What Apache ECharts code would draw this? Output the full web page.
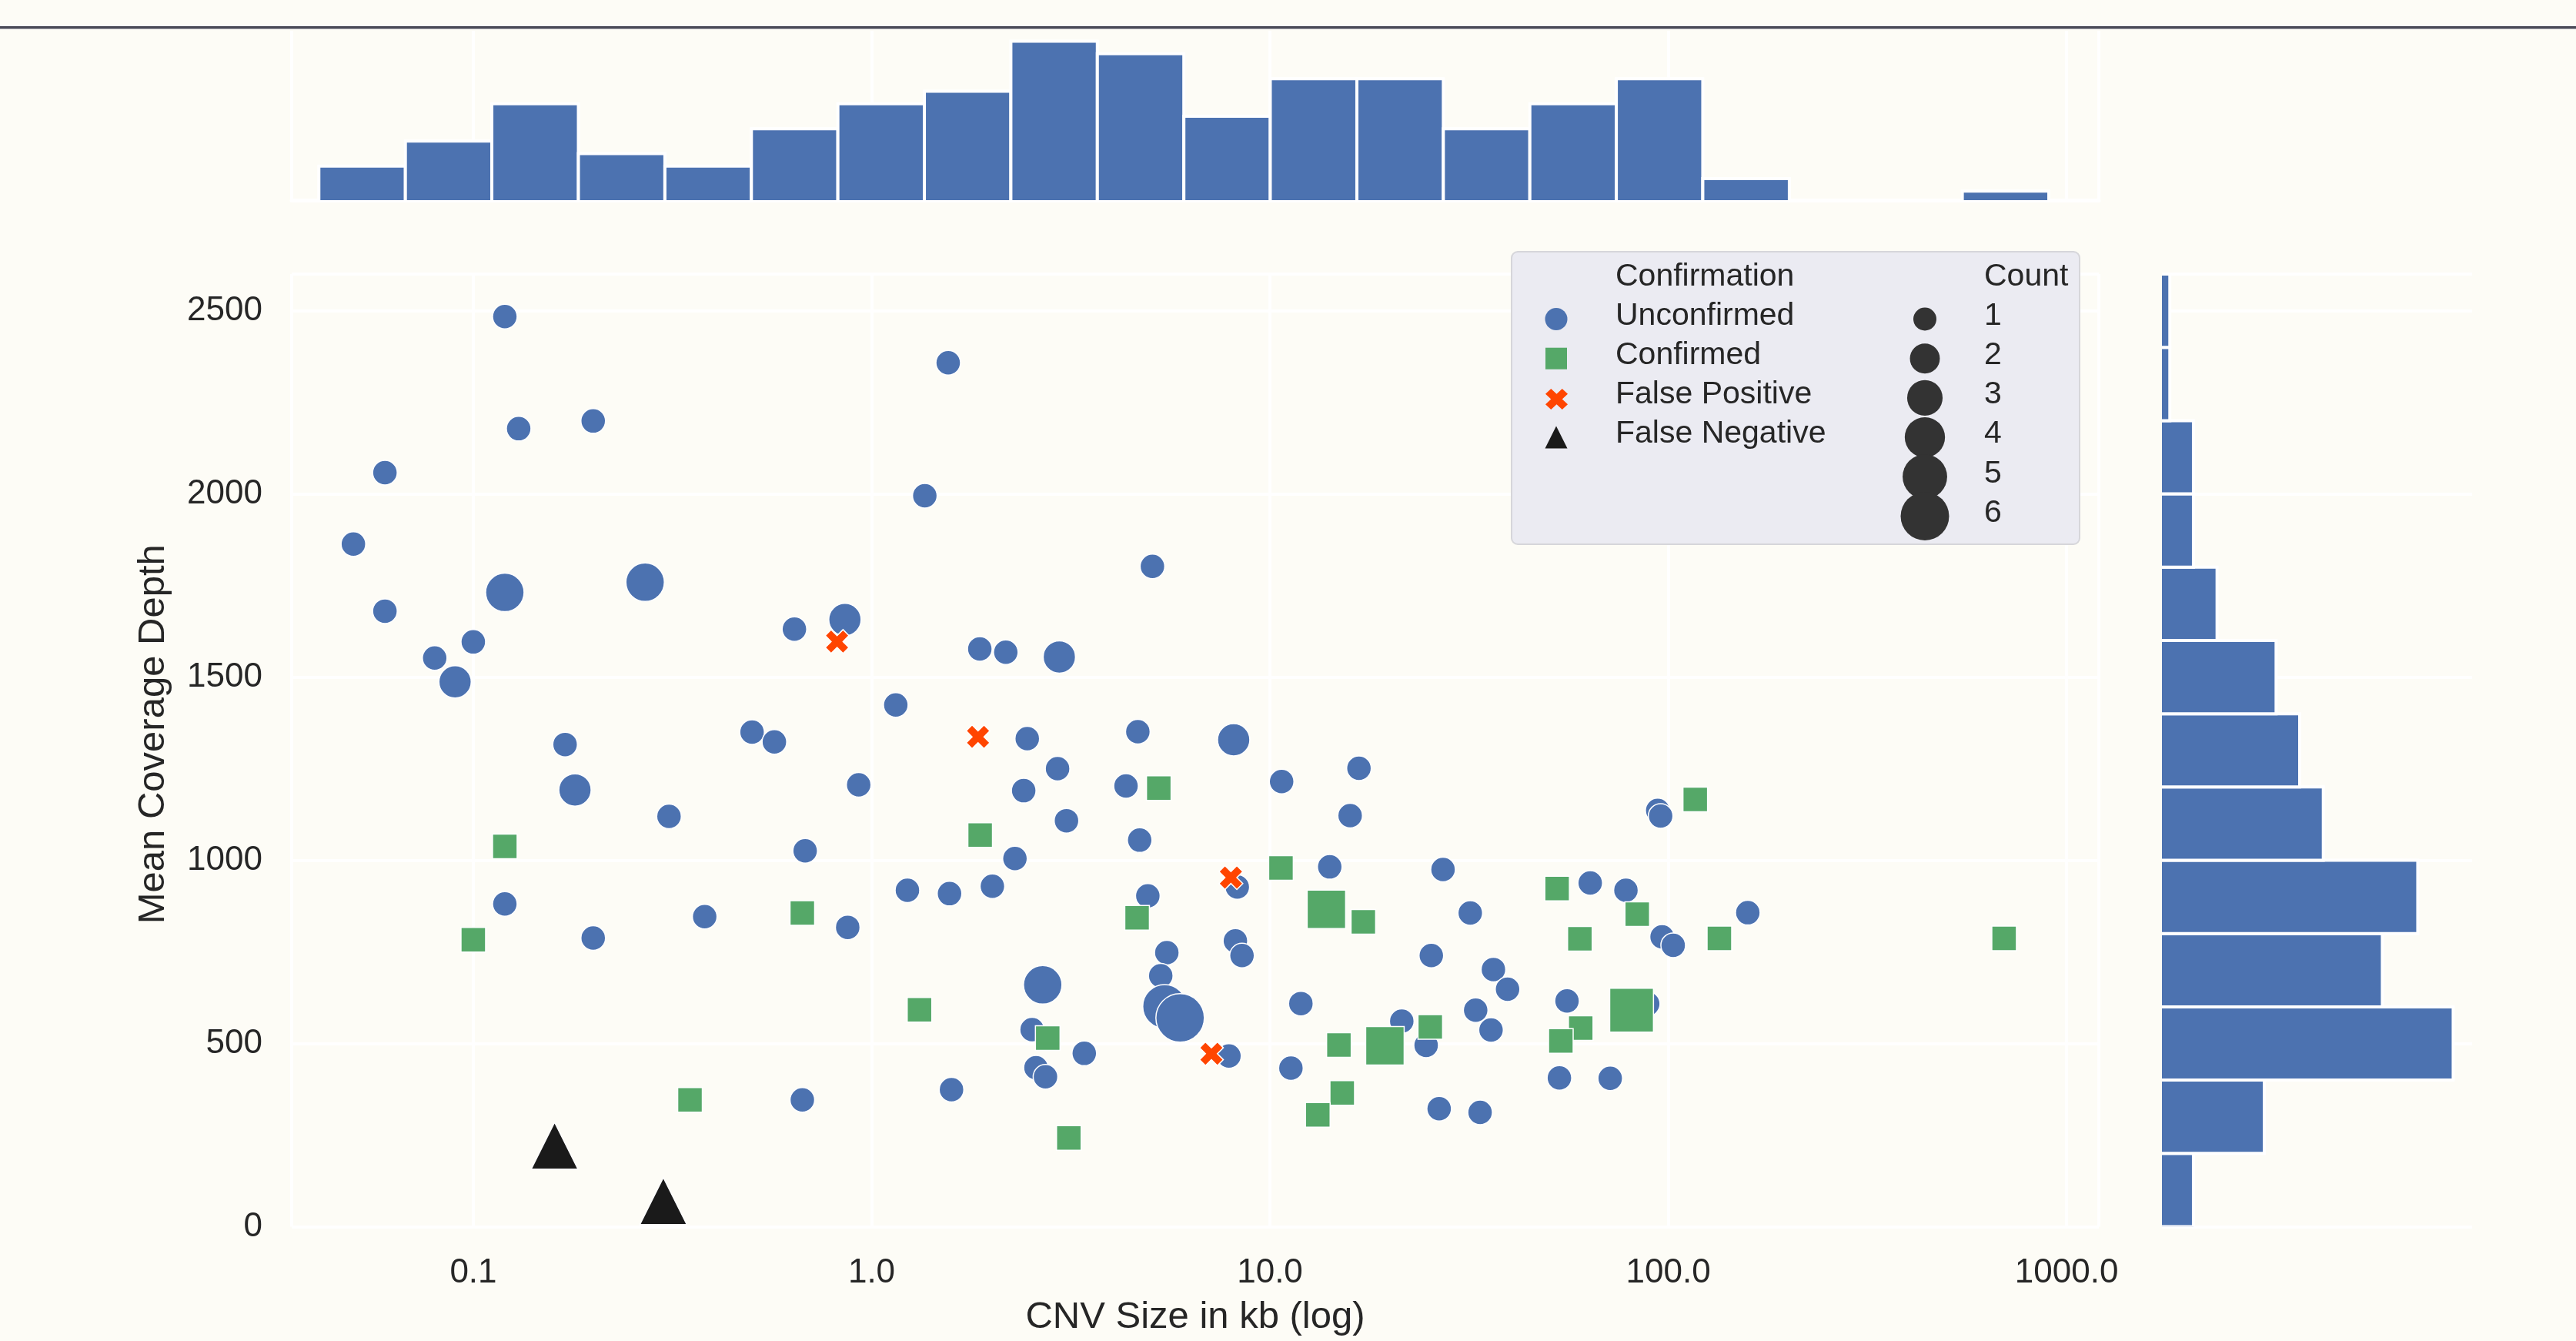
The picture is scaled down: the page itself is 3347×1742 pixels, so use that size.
<!DOCTYPE html>
<html>
<head>
<meta charset="utf-8">
<script src="https://cdn.jsdelivr.net/npm/echarts/dist/echarts.min.js"></script>
<style>
html,body{margin:0;padding:0;background:#fdfcf6;}
#c{width:3347px;height:1742px;}
</style>
</head>
<body>
<div id="c"></div>
<script>
// ---------------- DATA ----------------
// Unconfirmed CNVs: size (kb), mean coverage depth, count
const unconfSize  = [0.120,0.130,0.200,0.060,0.050,0.120,0.270,0.060,0.100,0.080,0.090,0.170,0.180,0.640,0.857,1.150,0.501,0.570,0.928,0.310,
                     1.557,1.360,5.07,1.869,2.172,2.960,2.459,4.66,8.11,2.930,2.409,4.352,10.70,16.73,15.90,3.085,4.71,2.290,2.010,4.937,
                     8.28,14.13,5.51,5.32,5.44,5.95,8.19,8.51,11.96,2.689,2.529,3.419,2.586,2.732,7.89,11.29,94.1,95.7,27.2,63.7,
                     78.3,158.4,31.84,96.5,102.9,25.42,36.4,39.5,55.7,88.8,21.43,24.67,32.85,35.9,53.3,71.5,26.6,33.7,0.681,1.230,
                     1.569,0.381,0.871,0.200,0.670,1.587,0.120];
const unconfDepth = [2484,2178,2199,2058,1863,1731,1759,1680,1596,1552,1487,1316,1192,1631,1657,1424,1350,1323,1206,1120,
                     2358,1995,1802,1577,1568,1555,1332,1351,1329,1250,1190,1203,1215,1251,1122,1108,1055,1005,929,903,
                     927,982,748,685,601,570,780,740,609,660,538,473,434,409,466,433,1136,1121,975,938,
                     918,857,856,791,768,740,702,648,616,608,561,495,591,537,406,405,322,312,1026,918,
                     909,846,817,788,346,374,881];
const unconfCount = [1,1,1,1,1,3,3,1,1,1,2,1,2,1,2,1,1,1,1,1,
                     1,1,1,1,1,2,1,1,2,1,1,1,1,1,1,1,1,1,1,1,
                     1,1,1,1,4,5,1,1,1,3,1,1,1,1,1,1,1,1,1,1,
                     1,1,1,1,1,1,1,1,1,1,1,1,1,1,1,1,1,1,1,1,
                     1,1,1,1,1,1,1];
// Confirmed CNVs
const confSize  = [5.26,1.873,4.64,10.66,13.86,17.16,2.768,3.127,14.9,15.19,13.19,19.44,116.9,52.6,83.6,134.4,60.0,80.9,25.27,60.3,
                   53.75,0.670,1.319,0.350,0.120,0.100,697];
const confDepth = [1197,1069,843,979,866,832,515,242,496,365,305,494,1166,923,853,787,786,591,545,542,
                   507,856,592,346,1038,783,787];
const confCount = [1,1,1,1,3,1,1,1,1,1,1,3,1,1,1,1,1,4,1,1,
                   1,1,1,1,1,1,1];
// False positives
const fpSize  = [0.819,1.850,7.98,7.13];
const fpDepth = [1597,1337,953,472];
const fpCount = [1,1,1,1];
// False negatives
const fnSize  = [0.160,0.300];
const fnDepth = [221,70];
const fnCount = [5,5];

// Marginal histogram of CNV size (log-spaced bin edges, kb) and counts
const sizeBinEdges  = [0.04095,0.06753,0.1113,0.1836,0.3027,0.4991,0.8228,1.3566,2.2366,3.6875,6.080,
                       10.02,16.53,27.25,44.93,74.07,122.1,201.4,331.9,547.3,902.6];
const sizeBinCounts = [3,5,8,4,3,6,8,9,13,12,7,10,10,6,8,10,2,0,0,1];
// Marginal histogram of depth (bin edges) and counts
const depthBinEdges  = [0,200,400,600,800,1000,1200,1400,1600,1800,2000,2200,2400,2600];
const depthBinCounts = [3,9,25,19,22,14,12,10,5,3,3,1,1];

// Axis tick values
const depthTicks = [0,500,1000,1500,2000,2500];
const categoryNames = ['Unconfirmed','Confirmed','False Positive','False Negative'];
const countLegend = [1,2,3,4,5,6];

// ---------------- STYLE ----------------
const FONT = "'Liberation Sans', Arial, Helvetica, sans-serif";
const TXT = '#262626';
const BG = '#fdfcf6';
const BLUE = '#4c72b0', GREEN = '#55a868', RED = '#ff4500', BLACK = '#1a1a1a';
const XPTS = [[2.5,0],[5,2.5],[7.5,0],[10,2.5],[7.5,5],[10,7.5],[7.5,10],[5,7.5],[2.5,10],[0,7.5],[2.5,5],[0,2.5]];
const XPATH = 'path://M' + XPTS.map(p=>p[0]+','+p[1]).join('L') + 'Z';
function markerSize(c){ return Math.sqrt(961 + 720*(c-1)) + 1; }
function legendSize(c){ return Math.sqrt(900 + 612*(c-1)); }
function zip(a,b,c){ return a.map((v,i)=>[v,b[i],c[i]]); }
function fmtSize(v){ return v >= 1 ? v.toFixed(1) : String(parseFloat(v.toPrecision(3))); }

const topHistData = sizeBinCounts.map((c,i)=>[sizeBinEdges[i], sizeBinEdges[i+1], c]);
const rightHistData = depthBinCounts.map((c,i)=>[c, depthBinEdges[i], depthBinEdges[i+1]]);

const chart = echarts.init(document.getElementById('c'), null, {renderer:'canvas', width:3347, height:1742});

const gridLine = {show:true, lineStyle:{color:'#ffffff', width:4}};

// Legend graphic
const lg = [];
lg.push({type:'rect', shape:{x:1964, y:327, width:738, height:380, r:8},
         style:{fill:'#ebebf2', stroke:'#d6d6da', lineWidth:2}, z:100});
lg.push({type:'text', x:2099, y:360, style:{text:'Confirmation', font:'41px '+FONT, fill:TXT, textVerticalAlign:'middle', textAlign:'left'}, z:101});
lg.push({type:'text', x:2578, y:360, style:{text:'Count', font:'41px '+FONT, fill:TXT, textVerticalAlign:'middle', textAlign:'left'}, z:101});
const rowM = i => 414.5 + 51.2*i;
const rowT = i => 410.5 + 51.2*i;
categoryNames.forEach((n,i)=>{
  lg.push({type:'text', x:2099, y:rowT(i), style:{text:n, font:'41px '+FONT, fill:TXT, textVerticalAlign:'middle', textAlign:'left'}, z:101});
});
lg.push({type:'circle', shape:{cx:2022, cy:rowM(0), r:14.5}, style:{fill:BLUE}, z:101});
lg.push({type:'rect', shape:{x:2008, y:rowM(1)-14, width:28, height:28}, style:{fill:GREEN}, z:101});
const xp = XPTS.map(p=>[2022.5 + (p[0]-5)*2.9, rowM(2)+1.5 + (p[1]-5)*2.7]);
lg.push({type:'polygon', shape:{points:xp}, style:{fill:RED}, z:101});
lg.push({type:'polygon', shape:{points:[[2022,rowM(3)-14.5],[2007.5,rowM(3)+14.5],[2036.5,rowM(3)+14.5]]}, style:{fill:BLACK}, z:101});
countLegend.forEach((c,j)=>{
  lg.push({type:'circle', shape:{cx:2501, cy:rowM(j), r:legendSize(c)/2}, style:{fill:'#333333'}, z:101});
  lg.push({type:'text', x:2578, y:rowT(j), style:{text:String(c), font:'41px '+FONT, fill:TXT, textVerticalAlign:'middle', textAlign:'left'}, z:101});
});
// thin dark rule at the top of the figure
lg.push({type:'rect', shape:{x:0, y:34, width:3347, height:3}, style:{fill:'#4b4b58'}, z:50});
lg.push({type:'rect', shape:{x:0, y:37, width:3347, height:1}, style:{fill:'#a6a6ad'}, z:50});

const option = {
  backgroundColor: BG,
  animation: false,
  grid: [
    {left:379, top:356, width:2348, height:1237.5},
    {left:379, top:40, width:2348, height:220},
    {left:2809, top:356, width:403, height:1237.5}
  ],
  xAxis: [
    {gridIndex:0, type:'log', logBase:10, min:0.035, max:1205,
     name:'CNV Size in kb (log)', nameLocation:'middle', nameGap:93,
     nameTextStyle:{fontSize:49, color:TXT, fontFamily:FONT},
     axisLine:{show:false}, axisTick:{show:false},
     axisLabel:{fontSize:44, color:TXT, margin:38, fontFamily:FONT, showMinLabel:false, showMaxLabel:false, formatter:fmtSize},
     splitLine:gridLine},
    {gridIndex:1, type:'log', logBase:10, min:0.035, max:1205,
     axisLine:{show:true, onZero:false, lineStyle:{color:'#ffffff', width:5}}, axisTick:{show:false},
     axisLabel:{show:false}, splitLine:gridLine},
    {gridIndex:2, type:'value', min:0.33, max:26.6, show:false}
  ],
  yAxis: [
    {gridIndex:0, type:'value', min:0, max:2600, interval:500,
     name:'Mean Coverage Depth', nameLocation:'middle', nameGap:155, nameRotate:90,
     nameTextStyle:{fontSize:49, color:TXT, fontFamily:FONT, padding:[0,0,0,42]},
     axisLine:{show:false}, axisTick:{show:false},
     axisLabel:{fontSize:44, color:TXT, margin:38, fontFamily:FONT, showMaxLabel:false,
                formatter: v => depthTicks.includes(v) ? String(v) : ''},
     splitLine:gridLine},
    {gridIndex:1, type:'value', min:0.28, max:13.83, show:false},
    {gridIndex:2, type:'value', min:0, max:2600, interval:500,
     axisLine:{show:false}, axisTick:{show:false}, axisLabel:{show:false}, splitLine:gridLine}
  ],
  series: [
    {name:'Unconfirmed', type:'scatter', xAxisIndex:0, yAxisIndex:0, symbol:'circle',
     data: zip(unconfSize, unconfDepth, unconfCount), symbolSize: d => markerSize(d[2]),
     itemStyle:{color:BLUE, borderColor:'#ffffff', borderWidth:1.5, opacity:1}, emphasis:{disabled:true}},
    {name:'Confirmed', type:'scatter', xAxisIndex:0, yAxisIndex:0, symbol:'rect',
     data: zip(confSize, confDepth, confCount), symbolSize: d => markerSize(d[2]),
     itemStyle:{color:GREEN, borderColor:'#ffffff', borderWidth:1.5, opacity:1}, emphasis:{disabled:true}},
    {name:'False Positive', type:'scatter', xAxisIndex:0, yAxisIndex:0, symbol:XPATH,
     data: zip(fpSize, fpDepth, fpCount), symbolSize: d => markerSize(d[2]) - 1,
     itemStyle:{color:RED, borderColor:'#ffffff', borderWidth:1.5, opacity:1}, emphasis:{disabled:true}},
    {name:'False Negative', type:'scatter', xAxisIndex:0, yAxisIndex:0, symbol:'triangle',
     data: zip(fnSize, fnDepth, fnCount), symbolSize: d => markerSize(d[2]) - 2,
     itemStyle:{color:BLACK, borderColor:'#ffffff', borderWidth:1.5, opacity:1}, emphasis:{disabled:true}},
    {name:'sizeHist', type:'custom', xAxisIndex:1, yAxisIndex:1, clip:true,
     encode:{x:[0,1], y:2}, data: topHistData,
     renderItem: (params, api) => {
       const c = api.value(2);
       if (!c) return null;
       const p0 = api.coord([api.value(0), c]);
       const p1 = api.coord([api.value(1), 0]);
       return {type:'rect', shape:{x:p0[0], y:p0[1], width:p1[0]-p0[0], height:p1[1]-p0[1]},
               style:{fill:BLUE, stroke:'#ffffff', lineWidth:4}};
     }},
    {name:'depthHist', type:'custom', xAxisIndex:2, yAxisIndex:2, clip:true,
     encode:{x:0, y:[1,2]}, data: rightHistData,
     renderItem: (params, api) => {
       const c = api.value(0);
       if (!c) return null;
       const p0 = api.coord([0, api.value(2)]);
       const p1 = api.coord([c, api.value(1)]);
       return {type:'rect', shape:{x:p0[0], y:p0[1], width:p1[0]-p0[0], height:p1[1]-p0[1]},
               style:{fill:BLUE, stroke:'#ffffff', lineWidth:4}};
     }}
  ],
  graphic: lg
};
chart.setOption(option);
</script>
</body>
</html>
